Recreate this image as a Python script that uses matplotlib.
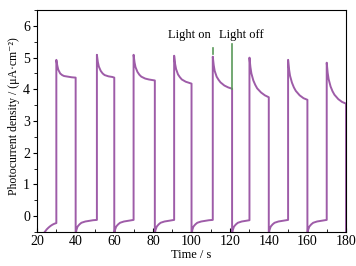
import matplotlib
matplotlib.use("Agg")
from matplotlib import pyplot as plt
from matplotlib.ticker import MultipleLocator

plt.rcParams['font.family'] = ['Liberation Serif', 'DejaVu Serif']

# dark segments (before each light-on), time in s and current in uA/cm2
dark_t = [
    [24, 25, 26, 27, 28, 29, 30],
    [40, 40.3, 41, 42, 43, 45, 47, 49, 51],
    [60, 60.3, 61, 62, 63, 65, 67, 69, 70],
    [81, 81.3, 82, 83, 84, 86, 88, 90, 91],
    [100, 100.3, 101, 102, 103, 105, 107, 109, 111],
    [121, 121.3, 122, 123, 124, 126, 128, 130],
    [140, 140.3, 141, 142, 143, 145, 147, 149, 150],
    [160, 160.3, 161, 162, 163, 165, 167, 169, 170],
]
dark_j = [
    [-0.5, -0.42, -0.36, -0.31, -0.27, -0.24, -0.22],
    [-0.6, -0.45, -0.33, -0.26, -0.21, -0.17, -0.15, -0.13, -0.12],
    [-0.6, -0.45, -0.33, -0.26, -0.21, -0.17, -0.15, -0.13, -0.12],
    [-0.6, -0.45, -0.33, -0.26, -0.21, -0.17, -0.15, -0.13, -0.12],
    [-0.6, -0.45, -0.33, -0.26, -0.21, -0.17, -0.15, -0.13, -0.12],
    [-0.6, -0.45, -0.33, -0.26, -0.21, -0.17, -0.15, -0.13],
    [-0.6, -0.45, -0.33, -0.26, -0.21, -0.17, -0.15, -0.13, -0.12],
    [-0.6, -0.45, -0.33, -0.26, -0.21, -0.17, -0.15, -0.13, -0.12],
]

# light segments
light_t = [
    [30, 30.5, 31, 32, 33, 34, 36, 38, 40],
    [51, 51.5, 52, 53, 54, 55, 57, 59, 60],
    [70, 70.5, 71, 72, 73, 74, 76, 78, 81],
    [91, 91.5, 92, 93, 94, 95, 97, 99, 100],
    [111, 111.5, 112, 113, 114, 115, 117, 119, 121],
    [130, 130.5, 131, 132, 133, 134, 136, 138, 140],
    [150, 150.5, 151, 152, 153, 154, 156, 158, 160],
    [170, 170.5, 171, 172, 173, 174, 176, 178, 180],
]
light_j = [
    [4.93, 4.75, 4.62, 4.50, 4.45, 4.42, 4.40, 4.38, 4.37],
    [5.09, 4.86, 4.72, 4.58, 4.50, 4.45, 4.41, 4.39, 4.37],
    [5.09, 4.85, 4.70, 4.55, 4.46, 4.40, 4.34, 4.31, 4.28],
    [5.06, 4.80, 4.64, 4.47, 4.38, 4.31, 4.24, 4.20, 4.18],
    [5.03, 4.76, 4.58, 4.40, 4.30, 4.22, 4.12, 4.06, 4.02],
    [5.00, 4.70, 4.50, 4.28, 4.14, 4.03, 3.90, 3.81, 3.75],
    [4.93, 4.63, 4.43, 4.21, 4.06, 3.95, 3.81, 3.72, 3.67],
    [4.84, 4.52, 4.32, 4.09, 3.94, 3.83, 3.69, 3.60, 3.55],
]

time_s = []
current = []
for dt, dj, lt, lj in zip(dark_t, dark_j, light_t, light_j):
    time_s += dt + lt
    current += dj + lj
time_s.append(180)
current.append(-0.6)

marker_on = (111, 5.12, 5.32)
marker_off = (121, 4.02, 5.42)

fig = plt.figure(figsize=(3.56, 2.66), dpi=100)
ax = fig.add_axes([0.104, 0.128, 0.868, 0.834])

ax.plot(time_s, current, color='#9e5ca8', lw=1.4)
ax.plot([marker_on[0]] * 2, marker_on[1:], color='#5a9a5a', lw=1.2)
ax.plot([marker_off[0]] * 2, marker_off[1:], color='#5a9a5a', lw=1.2)
ax.text(99, 5.72, 'Light on', ha='center', va='center', fontsize=9)
ax.text(126, 5.72, 'Light off', ha='center', va='center', fontsize=9)

ax.set_xlim(20, 180)
ax.set_ylim(-0.5, 6.5)
ax.xaxis.set_major_locator(MultipleLocator(20))
ax.xaxis.set_minor_locator(MultipleLocator(10))
ax.yaxis.set_major_locator(MultipleLocator(1))
ax.yaxis.set_minor_locator(MultipleLocator(0.5))
ax.tick_params(axis='x', direction='in', labelsize=10, length=3, pad=2)
ax.tick_params(axis='x', which='minor', direction='in', length=2)
ax.tick_params(axis='y', direction='out', labelsize=10, length=3, pad=2)
ax.tick_params(axis='y', which='minor', direction='out', length=2)
for sp in ax.spines.values():
    sp.set_linewidth(0.8)

ax.set_xlabel('Time / s', fontsize=9, labelpad=1)
ax.set_ylabel('Photocurrent density / (μA·cm⁻²)', fontsize=8.5)
ax.yaxis.set_label_coords(-0.055, 0.52)

fig.savefig('out.png', dpi=100)
